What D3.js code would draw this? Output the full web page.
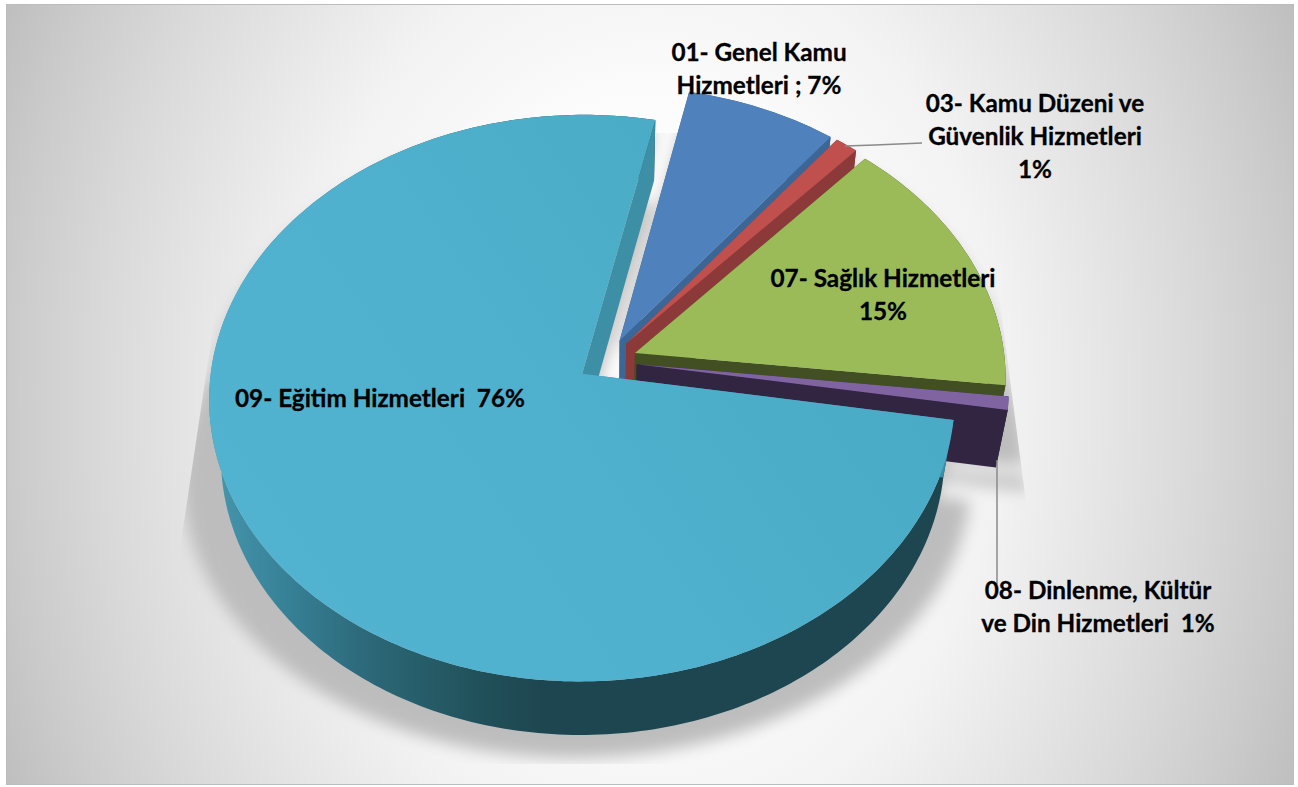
<!DOCTYPE html>
<html><head><meta charset="utf-8">
<script src="https://cdn.jsdelivr.net/npm/d3@7"></script>
<style>html,body{margin:0;padding:0;background:#fff}svg{display:block}</style>
</head><body><div id="chart"></div>
<script>
const categories = ["01- Genel Kamu Hizmetleri","03- Kamu Düzeni ve Güvenlik Hizmetleri","07- Sağlık Hizmetleri","08- Dinlenme, Kültür ve Din Hizmetleri","09- Eğitim Hizmetleri"];
const shares = [7.2, 1.1, 15.2, 0.75, 75.75];
const labelLines = [
  ["01- Genel Kamu","Hizmetleri ; 7%"],
  ["03- Kamu Düzeni ve","Güvenlik Hizmetleri","1%"],
  ["07- Sağlık Hizmetleri","15%"],
  ["08- Dinlenme, Kültür","ve Din Hizmetleri  1%"],
  ["09- Eğitim Hizmetleri  76%"]
];
const topColors = ["#4f81bd","#c0504d","#9bbb59","#8064a2","url(#tealTop)"];
const wallColors = ["#3c6696","#8b3a39","#414f22","#322541","#3d8fa6"];

const W = 1298, H = 787;
const svg = d3.select("#chart").append("svg").attr("width",W).attr("height",H);
const defs = svg.append("defs");

// --- perspective projection of the disc
const cam = {cx:607, cy:361, b:370, a:279, d:60, p:0.0855, q:0.03};
const explode = 0.081;
function project(u,v,z){
  const w = 1 - cam.p*v + cam.q*z;
  return [cam.cx + cam.b*u/w, cam.cy + (cam.a*v + cam.d*z)/w];
}
const start = 12.0*Math.PI/180;
const arcs = d3.pie().sort(null).value(d=>d).startAngle(start).endAngle(start+2*Math.PI)(shares);
const line = d3.line();
const rad = Math.PI/180;
function sampleAngles(a0,a1){
  const n = Math.max(2, Math.ceil((a1-a0)/rad));
  return d3.range(n+1).map(i=>a0+(a1-a0)*i/n);
}
function pt(arc,th,r,z,ex=explode){
  const m = (arc.startAngle+arc.endAngle)/2;
  return project(ex*Math.sin(m)+r*Math.sin(th), -ex*Math.cos(m)-r*Math.cos(th), z);
}
function topPath(arc,z=0,ex=explode){
  const pts = sampleAngles(arc.startAngle,arc.endAngle).map(t=>pt(arc,t,1,z,ex));
  pts.unshift(pt(arc,0,0,z,ex));
  return line(pts)+"Z";
}
function rimPath(arc){
  const as = sampleAngles(arc.startAngle,arc.endAngle);
  return line(as.map(t=>pt(arc,t,1,0)).concat(as.slice().reverse().map(t=>pt(arc,t,1,1))))+"Z";
}
function radialWall(arc,th){
  return line([pt(arc,0,0,0),pt(arc,th,1,0),pt(arc,th,1,1),pt(arc,0,0,1)])+"Z";
}

// --- gradients
const bg = defs.append("radialGradient").attr("id","bg").attr("gradientUnits","userSpaceOnUse")
  .attr("cx",0).attr("cy",0).attr("r",1).attr("gradientTransform","translate(650,395) scale(753,975)");
[[0,"#ffffff"],[0.3,"#fcfcfc"],[0.4,"#f6f6f6"],[0.465,"#f3f3f3"],[0.6,"#e6e6e6"],[0.73,"#d9d9d9"],[0.85,"#cbcbcb"],[0.94,"#bfbfbf"],[1,"#bbbbbb"]]
  .forEach(s=>bg.append("stop").attr("offset",s[0]).attr("stop-color",s[1]));
const tt = defs.append("linearGradient").attr("id","tealTop").attr("gradientUnits","userSpaceOnUse")
  .attr("x1",300).attr("y1",620).attr("x2",900).attr("y2",200);
[[0,"#51b3cf"],[0.4,"#4fb1cd"],[1,"#49a9c4"]].forEach(s=>tt.append("stop").attr("offset",s[0]).attr("stop-color",s[1]));
const rim = defs.append("linearGradient").attr("id","tealRim").attr("gradientUnits","userSpaceOnUse").attr("x1",215).attr("x2",600).attr("y1",0).attr("y2",0);
[[0,"#4596ad"],[0.2,"#367f94"],[0.4,"#2c6878"],[0.7,"#205059"],[0.85,"#1e4650"],[1,"#1e4650"]].forEach(s=>rim.append("stop").attr("offset",s[0]).attr("stop-color",s[1]));
const blur = defs.append("filter").attr("id","soft").attr("filterUnits","userSpaceOnUse").attr("x",0).attr("y",0).attr("width",W).attr("height",H+60);
blur.append("feGaussianBlur").attr("stdDeviation",8);
defs.append("clipPath").attr("id","shadowClip").append("polygon")
  .attr("points","242,133 978,133 1060,764 148,764");

// --- plot background
svg.append("rect").attr("x",6.5).attr("y",4.5).attr("width",1287).attr("height",780)
  .attr("fill","url(#bg)").attr("stroke","#bcbcbc").attr("stroke-width",1);

// --- soft shadow underneath the pie
const shadow = svg.append("g").attr("clip-path","url(#shadowClip)")
  .append("g").attr("filter","url(#soft)");
shadow.selectAll("path.sBottom").data(arcs).join("path").attr("class","sBottom")
  .attr("d",d=>topPath(d,1))
  .attr("fill","#bdbdbd")
  .attr("transform",`translate(${cam.cx-4},${cam.cy+23}) scale(1.09,1) translate(${-cam.cx},${-cam.cy})`);
shadow.selectAll("path.sTop").data(arcs).join("path").attr("class","sTop")
  .attr("d",d=>topPath(d,0))
  .attr("fill","#bdbdbd")
  .attr("transform","translate(0,12)");

// --- slices, back to front
const slices = svg.selectAll("g.slice").data(arcs).join("g").attr("class","slice");
slices.append("path").attr("d",d=>rimPath(d))
  .attr("fill",(d,i)=> i===4 ? "url(#tealRim)" : wallColors[i]);
slices.append("path").attr("d",d=>radialWall(d,d.startAngle)).attr("fill",(d,i)=>wallColors[i]);
slices.append("path").attr("d",d=>radialWall(d,d.endAngle)).attr("fill",(d,i)=>wallColors[i]);
slices.append("path").attr("d",d=>topPath(d)).attr("fill",(d,i)=>topColors[i]);

// --- leader lines
const leaders = [[[845,146],[875,145],[922,143]],[[997,460],[997,584]]];
svg.selectAll("path.leader").data(leaders).join("path").attr("class","leader")
  .attr("d",d=>line(d)).attr("fill","none").attr("stroke","#8a8a8a").attr("stroke-width",1.5);

// --- labels
const anchors = [[759,61],[1035,112],[883,287],[1098,599],[380,407]];
const lh = 33;
const labels = svg.selectAll("text.lab").data(labelLines).join("text").attr("class","lab")
  .attr("text-anchor","middle").attr("xml:space","preserve")
  .style("white-space","pre")
  .attr("font-family","Lato, 'Open Sans', sans-serif").attr("font-weight",700)
  .attr("font-size",24.3).attr("fill","#000").attr("stroke","#000").attr("stroke-width",0.3);
labels.each(function(lines,i){
  d3.select(this).selectAll("tspan").data(lines).join("tspan")
    .attr("x",anchors[i][0]).attr("y",(d,j)=>anchors[i][1]+j*lh).text(d=>d);
});
</script></body></html>
